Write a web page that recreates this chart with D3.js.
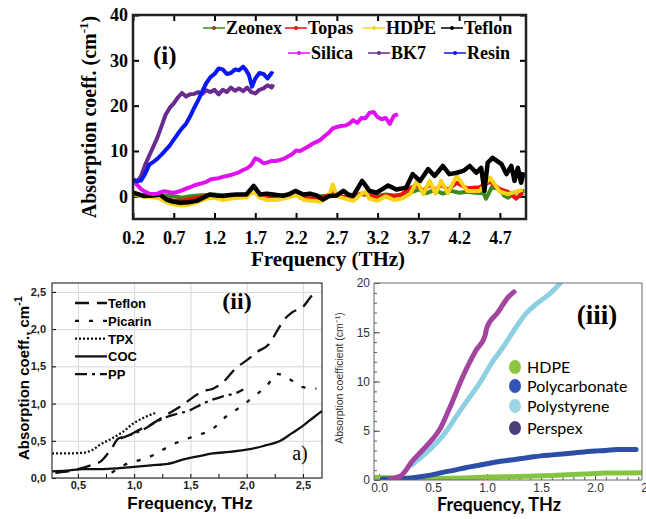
<!DOCTYPE html>
<html>
<head>
<meta charset="utf-8">
<script src="https://cdn.jsdelivr.net/npm/d3@7"></script>
<style>
	body { margin: 0; background: #fff; }
	svg { display: block; }
</style>
</head>
<body>
<script>
const w = 646;
const h = 519;
const serif = "'Liberation Serif', 'Times New Roman', serif";
const sans = "'Liberation Sans', Arial, sans-serif";

// ---------- panel (i) data : [THz, cm-1]
const ticksI_x = [0.2, 0.7, 1.2, 1.7, 2.2, 2.7, 3.2, 3.7, 4.2, 4.7];
const ticksI_y = [0, 10, 20, 30, 40];

const zeonexI = [[0.2,0.6],[0.3,0.2],[0.4,0.1],[0.5,0.2],[0.6,0.2],[0.7,0],[0.8,-0.3],[0.9,0],[1.0,0.2],[1.1,0.3],[1.2,0.4],[1.3,0.2],[1.4,0.3],[1.5,0.3],[1.6,0.2],[1.68,1.0],[1.75,0.4],[1.85,0.3],[1.95,0.2],[2.05,0.3],[2.15,0.5],[2.2,0.4],[2.3,0],[2.4,-0.3],[2.5,0],[2.6,0.2],[2.7,0.1],[2.8,-0.2],[2.9,0.1],[3.0,0.5],[3.1,0.3],[3.2,0.1],[3.3,0.4],[3.4,0.2],[3.5,0.3],[3.6,0.8],[3.7,1.5],[3.8,0.7],[3.9,1.4],[4.0,0.6],[4.1,1.2],[4.2,0.8],[4.3,1.0],[4.4,0.8],[4.5,0.7],[4.53,-0.5],[4.6,2.0],[4.7,1.6],[4.75,0.2],[4.8,-0.3],[4.9,1.0],[5.0,1.2]];
const topasI = [[0.2,0.8],[0.3,0.2],[0.5,0],[0.6,-0.5],[0.7,-1],[0.8,-1],[0.9,-0.6],[1.0,-0.3],[1.1,0.1],[1.2,0],[1.3,-0.3],[1.4,0],[1.5,0.2],[1.6,0.2],[1.68,1.2],[1.75,0.2],[1.9,0],[2.0,0],[2.1,0.3],[2.2,0.8],[2.25,-0.3],[2.4,-0.5],[2.5,-0.3],[2.6,0.2],[2.65,1.5],[2.7,0.2],[2.8,-0.2],[2.9,-0.3],[3.0,0.6],[3.1,0.2],[3.2,-0.3],[3.3,0.3],[3.4,0],[3.5,0.5],[3.6,1.8],[3.68,2.5],[3.76,1.2],[3.84,2.6],[3.91,1.3],[3.98,2.6],[4.06,1.4],[4.17,3.0],[4.3,1.8],[4.45,2.0],[4.58,3.2],[4.7,1.6],[4.8,1.0],[4.9,-0.5],[4.98,0.8]];
const hdpeI = [[0.2,0.5],[0.3,0],[0.5,-0.3],[0.6,-1.2],[0.7,-1.8],[0.8,-2],[0.9,-1.8],[1.0,-1.2],[1.1,-0.5],[1.2,-0.3],[1.3,-0.8],[1.4,-0.5],[1.5,-0.3],[1.6,-0.2],[1.68,1.3],[1.75,-0.3],[1.85,-0.8],[1.95,-0.8],[2.05,-0.5],[2.15,0],[2.2,0.3],[2.3,-0.8],[2.4,-1.0],[2.5,-1.2],[2.6,0],[2.65,2.6],[2.7,0],[2.8,-0.5],[2.9,-1],[3.0,0.5],[3.05,1.0],[3.1,-0.5],[3.2,-1],[3.3,0],[3.4,-0.8],[3.5,-0.5],[3.6,0.5],[3.68,3.4],[3.76,0.5],[3.84,3.4],[3.91,0.6],[3.98,3.4],[4.06,0.7],[4.17,4.5],[4.3,1.2],[4.45,1.2],[4.58,4.1],[4.7,1.0],[4.8,0.5],[4.9,1.0],[4.98,1.5]];
const teflonI = [[0.2,0.8],[0.33,0.1],[0.45,0.2],[0.53,0.4],[0.61,-0.7],[0.7,-1.2],[0.78,-1.4],[0.88,-1.3],[0.98,-1.0],[1.06,-0.3],[1.14,0.4],[1.22,0.2],[1.31,0.1],[1.39,0.3],[1.47,0.4],[1.59,0.4],[1.68,2.3],[1.76,0.4],[1.84,0.6],[1.92,0.4],[2.04,0.1],[2.12,0.5],[2.19,1.2],[2.29,0.4],[2.37,0.6],[2.45,0.2],[2.53,-0.7],[2.61,0.1],[2.7,0.2],[2.78,1.2],[2.84,0.4],[2.9,0.1],[3.01,3.4],[3.1,1.2],[3.19,0.8],[3.33,2.4],[3.43,1.5],[3.55,1.9],[3.63,4.9],[3.72,3.4],[3.82,6.0],[3.9,4.5],[4.0,6.7],[4.08,4.9],[4.17,5.2],[4.25,5.6],[4.33,6.7],[4.41,5.2],[4.47,6.3],[4.51,1.2],[4.55,7.4],[4.61,8.5],[4.72,7.1],[4.78,4.9],[4.84,6.7],[4.88,3.4],[4.92,6.3],[4.96,3.0],[4.99,5.3]];
const silicaI = [[0.2,3.5],[0.25,2.5],[0.3,1.6],[0.35,1.0],[0.4,0.6],[0.45,0.5],[0.5,0.6],[0.55,1.0],[0.6,1.1],[0.65,0.9],[0.7,0.8],[0.75,1.0],[0.8,1.3],[0.85,1.7],[0.9,2.0],[0.95,2.4],[1.0,2.7],[1.05,2.9],[1.1,3.2],[1.15,3.7],[1.2,3.9],[1.25,4.0],[1.3,4.3],[1.35,4.5],[1.4,4.7],[1.45,5.0],[1.5,5.3],[1.55,5.8],[1.6,6.2],[1.65,6.9],[1.7,8.4],[1.75,8.0],[1.8,7.3],[1.85,7.5],[1.9,7.8],[1.95,7.8],[2.0,8.0],[2.05,8.3],[2.1,8.8],[2.15,9.3],[2.2,10.1],[2.25,10.0],[2.3,10.5],[2.35,11.0],[2.4,11.6],[2.45,12.0],[2.5,12.5],[2.55,13.3],[2.6,14.0],[2.65,15.0],[2.7,15.3],[2.75,15.5],[2.8,15.6],[2.85,16.0],[2.9,16.8],[2.95,16.2],[3.0,17.3],[3.05,17.2],[3.1,18.4],[3.15,18.6],[3.2,17.5],[3.25,17.0],[3.3,17.3],[3.35,16.0],[3.4,17.8],[3.45,18.1]];
const bk7I = [[0.2,3.5],[0.25,3.2],[0.3,4.5],[0.35,7.0],[0.4,9.0],[0.45,11.0],[0.5,13.0],[0.55,15.5],[0.6,18.0],[0.65,19.5],[0.7,20.5],[0.75,21.8],[0.8,22.8],[0.85,22.0],[0.9,22.5],[0.95,22.6],[1.0,23.0],[1.05,22.6],[1.1,23.4],[1.15,23.0],[1.2,23.5],[1.25,22.5],[1.3,23.5],[1.35,23.0],[1.4,24.0],[1.45,23.3],[1.5,23.8],[1.55,23.2],[1.6,24.0],[1.65,23.0],[1.7,22.7],[1.75,23.5],[1.8,23.8],[1.85,24.5],[1.9,24.0],[1.92,24.7]];
const resinI = [[0.2,3.7],[0.25,3.4],[0.3,3.5],[0.35,5.0],[0.4,7.0],[0.45,7.6],[0.5,8.3],[0.55,9.2],[0.6,10.2],[0.65,11.2],[0.7,12.5],[0.75,13.8],[0.8,15.0],[0.85,16.0],[0.9,17.6],[0.95,19.5],[1.0,21.2],[1.05,23.2],[1.1,25.0],[1.15,26.3],[1.2,27.0],[1.25,28.2],[1.3,28.0],[1.35,27.0],[1.4,27.2],[1.45,28.0],[1.5,27.8],[1.55,28.6],[1.58,28.0],[1.62,26.8],[1.66,24.2],[1.7,26.0],[1.75,27.2],[1.8,27.0],[1.85,26.0],[1.9,27.2],[1.92,27.0]];

// ---------- panel (ii) data
const ticksII_x = [0.5, 1.0, 1.5, 2.0, 2.5];
const ticksII_y = [0, 0.5, 1.0, 1.5, 2.0, 2.5];
const teflonII = [[0.3,0.07],[0.45,0.1],[0.55,0.14],[0.63,0.18],[0.7,0.22],[0.8,0.4],[0.86,0.53],[0.95,0.57],[1.05,0.65],[1.15,0.72],[1.3,0.86],[1.4,0.95],[1.52,1.08],[1.6,1.16],[1.7,1.2],[1.8,1.3],[1.9,1.47],[2.0,1.58],[2.1,1.7],[2.2,1.8],[2.28,2.0],[2.33,2.12],[2.4,2.22],[2.5,2.3],[2.6,2.48],[2.63,2.5]];
const picarinII = [[0.8,0.07],[0.95,0.2],[1.07,0.25],[1.19,0.32],[1.3,0.42],[1.44,0.51],[1.55,0.57],[1.69,0.65],[1.82,0.83],[1.96,0.97],[2.06,1.09],[2.18,1.24],[2.27,1.4],[2.39,1.32],[2.5,1.22],[2.62,1.2]];
const tpxII = [[0.27,0.33],[0.4,0.33],[0.55,0.34],[0.62,0.37],[0.7,0.45],[0.8,0.53],[0.9,0.62],[1.0,0.74],[1.1,0.82],[1.2,0.88]];
const cocII = [[0.27,0.09],[0.4,0.1],[0.55,0.12],[0.7,0.12],[0.85,0.13],[1.0,0.15],[1.15,0.17],[1.3,0.19],[1.44,0.25],[1.6,0.3],[1.7,0.33],[1.85,0.35],[2.0,0.38],[2.15,0.43],[2.3,0.5],[2.4,0.6],[2.5,0.7],[2.6,0.82],[2.67,0.9]];
const ppII = [[0.88,0.53],[0.98,0.59],[1.08,0.65],[1.18,0.74],[1.29,0.82],[1.38,0.86],[1.48,0.9],[1.6,0.99],[1.69,1.05],[1.8,1.1],[1.92,1.15],[1.97,1.19]];

// ---------- panel (iii) data
const ticksIII_x = [0, 0.5, 1.0, 1.5, 2.0, 2.5];
const ticksIII_y = [0, 5, 10, 15, 20];
const hdpeIII = [[-0.04,0.25],[0.2,0.2],[0.5,0.15],[0.8,0.2],[1.0,0.3],[1.3,0.35],[1.6,0.45],[1.9,0.6],[2.1,0.7],[2.3,0.72],[2.45,0.75]];
const polycarbIII = [[0.03,0.1],[0.2,0.12],[0.3,0.2],[0.4,0.35],[0.5,0.55],[0.6,0.8],[0.7,1.0],[0.8,1.25],[0.9,1.45],[1.0,1.65],[1.1,1.85],[1.2,2.0],[1.3,2.15],[1.4,2.3],[1.5,2.45],[1.6,2.55],[1.7,2.65],[1.8,2.75],[1.9,2.85],[2.0,2.95],[2.1,3.0],[2.2,3.1],[2.3,3.1],[2.38,3.1]];
const polystyIII = [[0.3,1.5],[0.4,2.4],[0.5,3.4],[0.62,4.9],[0.7,6.2],[0.8,7.8],[0.93,9.8],[1.05,12.0],[1.15,13.5],[1.25,15.2],[1.36,16.9],[1.46,17.9],[1.58,18.9],[1.68,20.0]];
const perspexIII = [[0.1,0.1],[0.2,0.4],[0.25,1.0],[0.3,1.8],[0.4,3.0],[0.5,4.2],[0.56,5.1],[0.65,7.2],[0.78,10.6],[0.9,13.2],[0.98,14.6],[1.0,15.5],[1.1,17.0],[1.2,18.6],[1.25,19.1]];

const svg = d3.select('body').append('svg').attr('width', w).attr('height', h);
svg.append('rect').attr('width', w).attr('height', h).attr('fill', '#fff');

// ======================= panel (i)
const x1 = d3.scaleLinear().domain([0.2, 5.02]).range([133, 526]);
const y1 = d3.scaleLinear().domain([-5, 40]).range([219, 15]);
const g1 = svg.append('g');

function styleAxis(g, family, size, weight, color) {
	g.select('.domain').remove();
	g.attr('font-family', family).attr('font-size', size).attr('font-weight', weight);
	g.selectAll('text').attr('fill', color);
}

g1.append('g')
	.attr('transform', 'translate(0,219)')
	.call(d3.axisBottom(x1).tickValues(ticksI_x).tickFormat(d3.format('.1f')).tickSizeInner(-6).tickSizeOuter(0).tickPadding(12))
	.call(function(g) { styleAxis(g, serif, 18, 'bold', '#000'); });
g1.append('g')
	.attr('transform', 'translate(0,15)')
	.call(d3.axisTop(x1).tickValues(ticksI_x).tickFormat('').tickSizeInner(-6).tickSizeOuter(0))
	.call(function(g) { g.select('.domain').remove(); });
g1.append('g')
	.attr('transform', 'translate(133,0)')
	.call(d3.axisLeft(y1).tickValues(ticksI_y).tickFormat(d3.format('d')).tickSizeInner(-6).tickSizeOuter(0).tickPadding(5))
	.call(function(g) { styleAxis(g, serif, 18, 'bold', '#000'); });
g1.append('g')
	.attr('transform', 'translate(526,0)')
	.call(d3.axisRight(y1).tickValues(ticksI_y).tickFormat('').tickSizeInner(-6).tickSizeOuter(0))
	.call(function(g) { g.select('.domain').remove(); });
g1.selectAll('.tick line').attr('stroke-width', 2);

const seriesI = [
	{ name: 'Zeonex', color: '#3d8a1f', data: zeonexI },
	{ name: 'Topas', color: '#f01010', data: topasI },
	{ name: 'HDPE', color: '#f7d417', data: hdpeI },
	{ name: 'Teflon', color: '#000', data: teflonI },
	{ name: 'Silica', color: '#e010f0', data: silicaI },
	{ name: 'BK7', color: '#6a2a8e', data: bk7I },
	{ name: 'Resin', color: '#0818f5', data: resinI }
];
const line1 = d3.line()
	.x(function(d) { return x1(d[0]); })
	.y(function(d) { return y1(d[1]); });

g1.selectAll('.lineI')
	.data(seriesI)
	.enter()
	.append('path')
	.attr('class', 'lineI')
	.attr('fill', 'none')
	.attr('stroke', function(d) { return d.color; })
	.attr('stroke-width', function(d) { return d.name === 'Teflon' ? 4.5 : 4; })
	.attr('stroke-linejoin', 'round')
	.attr('d', function(d) { return line1(d.data); });

g1.append('rect')
	.attr('x', 133).attr('y', 15).attr('width', 393).attr('height', 204)
	.attr('fill', 'none').attr('stroke', '#222').attr('stroke-width', 2.5);

// legend (i)
const legendPos = [[203, 34], [285, 34], [363, 34], [441, 34], [288, 59], [368, 59], [444, 59]];
const leg1 = g1.selectAll('.legI')
	.data(seriesI)
	.enter()
	.append('g')
	.attr('class', 'legI')
	.attr('transform', function(d, i) { return 'translate(' + legendPos[i][0] + ',' + legendPos[i][1] + ')'; });
leg1.append('line').attr('x1', 0).attr('x2', 22).attr('y1', -6).attr('y2', -6)
	.attr('stroke', function(d) { return d.color; }).attr('stroke-width', 1.5);
leg1.append('circle').attr('cx', 11).attr('cy', -6).attr('r', 2)
	.attr('fill', function(d) { return d.name === 'Zeonex' ? '#a0302a' : d.color; });
leg1.append('text').attr('x', 23).attr('y', 0)
	.attr('font-family', serif).attr('font-weight', 'bold').attr('font-size', 18)
	.text(function(d) { return d.name; });

g1.append('text').attr('x', 153).attr('y', 64)
	.attr('font-family', serif).attr('font-weight', 'bold').attr('font-size', 25).text('(i)');

g1.append('text').attr('x', 328).attr('y', 266).attr('text-anchor', 'middle')
	.attr('font-family', serif).attr('font-weight', 'bold').attr('font-size', 21).text('Frequency (THz)');

const yl1 = g1.append('text')
	.attr('transform', 'translate(96,117) rotate(-90)')
	.attr('text-anchor', 'middle')
	.attr('font-family', serif).attr('font-weight', 'bold').attr('font-size', 20);
yl1.append('tspan').text('Absorption coeff. (cm');
yl1.append('tspan').attr('dy', -8).attr('font-size', 13).text('-1');
yl1.append('tspan').attr('dy', 8).text(')');

// ======================= panel (ii)
const x2 = d3.scaleLinear().domain([0.27, 2.67]).range([52, 322]);
const y2 = d3.scaleLinear().domain([0, 2.62]).range([478, 283]);
const g2 = svg.append('g');
const comma = function(d) { return d3.format('.1f')(d).replace('.', ','); };

g2.append('g').attr('transform', 'translate(0,478)')
	.call(d3.axisBottom(x2).tickValues(ticksII_x).tickSizeInner(-195).tickSizeOuter(0).tickFormat(''))
	.call(function(g) { g.select('.domain').remove(); g.selectAll('line').attr('stroke', '#d8d8d8'); });
g2.append('g').attr('transform', 'translate(52,0)')
	.call(d3.axisLeft(y2).tickValues(ticksII_y).tickSizeInner(-270).tickSizeOuter(0).tickFormat(''))
	.call(function(g) { g.select('.domain').remove(); g.selectAll('line').attr('stroke', '#d8d8d8'); });

g2.append('g').attr('transform', 'translate(0,478)')
	.call(d3.axisBottom(x2).tickValues(d3.range(0.5, 2.6, 0.25)).tickSizeInner(-4).tickSizeOuter(0).tickFormat(function(d) { return ticksII_x.indexOf(d) >= 0 ? comma(d) : ''; }).tickPadding(3))
	.call(function(g) { styleAxis(g, sans, 11, 'bold', '#222'); });
g2.append('g').attr('transform', 'translate(52,0)')
	.call(d3.axisLeft(y2).tickValues(ticksII_y).tickSizeInner(-4).tickSizeOuter(0).tickFormat(comma).tickPadding(6))
	.call(function(g) { styleAxis(g, sans, 11, 'bold', '#222'); });

const seriesII = [
	{ name: 'Teflon', data: teflonII, dash: '14,8' },
	{ name: 'Picarin', data: picarinII, dash: '4,10' },
	{ name: 'TPX', data: tpxII, dash: '2,2' },
	{ name: 'COC', data: cocII, dash: null },
	{ name: 'PP', data: ppII, dash: '12,5,3,5' }
];
const line2 = d3.line()
	.curve(d3.curveMonotoneX)
	.x(function(d) { return x2(d[0]); })
	.y(function(d) { return y2(d[1]); });

g2.selectAll('.lineII')
	.data(seriesII)
	.enter()
	.append('path')
	.attr('class', 'lineII')
	.attr('fill', 'none')
	.attr('stroke', '#111')
	.attr('stroke-width', 2.3)
	.attr('stroke-dasharray', function(d) { return d.dash; })
	.attr('d', function(d) { return line2(d.data); });

g2.append('rect').attr('x', 52).attr('y', 283).attr('width', 270).attr('height', 195)
	.attr('fill', 'none').attr('stroke', '#333').attr('stroke-width', 1.2);

const leg2 = g2.selectAll('.legII')
	.data(seriesII)
	.enter()
	.append('g')
	.attr('class', 'legII')
	.attr('transform', function(d, i) { return 'translate(75,' + (303 + i * 17.8) + ')'; });
leg2.append('line').attr('x1', 0).attr('x2', 32).attr('y1', 0).attr('y2', 0)
	.attr('stroke', '#111').attr('stroke-width', 2.3)
	.attr('stroke-dasharray', function(d) { return d.dash; });
leg2.append('text').attr('x', 33).attr('y', 5)
	.attr('font-family', sans).attr('font-weight', 'bold').attr('font-size', 13)
	.text(function(d) { return d.name; });

g2.append('text').attr('x', 237).attr('y', 309).attr('text-anchor', 'middle')
	.attr('font-family', serif).attr('font-weight', 'bold').attr('font-size', 24).text('(ii)');
g2.append('text').attr('x', 300).attr('y', 460).attr('text-anchor', 'middle')
	.attr('font-family', serif).attr('font-size', 20).text('a)');
g2.append('text').attr('x', 190).attr('y', 509).attr('text-anchor', 'middle')
	.attr('font-family', sans).attr('font-weight', 'bold').attr('font-size', 17).text('Frequency, THz');
const yl2 = g2.append('text')
	.attr('transform', 'translate(29,378) rotate(-90)')
	.attr('text-anchor', 'middle')
	.attr('font-family', sans).attr('font-weight', 'bold').attr('font-size', 15);
yl2.append('tspan').text('Absorption coeff., cm');
yl2.append('tspan').attr('dy', -7).attr('font-size', 11).text('-1');

// ======================= panel (iii)
const x3 = d3.scaleLinear().domain([0, 2.5]).range([379, 649]);
const y3 = d3.scaleLinear().domain([0, 20]).range([480, 283]);
const g3 = svg.append('g');

g3.append('g').attr('transform', 'translate(0,480)')
	.call(d3.axisBottom(x3).tickValues(d3.range(0, 2.45, 0.1)).tickSizeInner(-3).tickSizeOuter(0).tickFormat(''))
	.call(function(g) { g.select('.domain').remove(); g.selectAll('line').attr('stroke', '#555'); });
g3.append('g').attr('transform', 'translate(0,480)')
	.call(d3.axisBottom(x3).tickValues(ticksIII_x).tickSizeInner(-6).tickSizeOuter(0).tickFormat(d3.format('.1f')).tickPadding(3))
	.call(function(g) { styleAxis(g, sans, 12, 'normal', '#333'); g.selectAll('line').attr('stroke', '#555'); });
g3.append('g').attr('transform', 'translate(374,0)')
	.call(d3.axisLeft(y3).tickValues(d3.range(0, 20.1, 1)).tickSizeInner(-3).tickSizeOuter(0).tickFormat(''))
	.call(function(g) { g.select('.domain').remove(); g.selectAll('line').attr('stroke', '#555'); });
g3.append('g').attr('transform', 'translate(374,0)')
	.call(d3.axisLeft(y3).tickValues(ticksIII_y).tickSizeInner(-6).tickSizeOuter(0).tickFormat(d3.format('d')).tickPadding(4))
	.call(function(g) { styleAxis(g, sans, 12, 'normal', '#333'); g.selectAll('line').attr('stroke', '#555'); });

svg.append('clipPath').attr('id', 'clip3')
	.append('rect').attr('x', 374).attr('y', 283).attr('width', 268).attr('height', 197);

const seriesIII = [
	{ name: 'HDPE', color: '#84c441', key: '#8cc63f', data: hdpeIII },
	{ name: 'Polycarbonate', color: '#2c4ea9', key: '#2f55b6', data: polycarbIII },
	{ name: 'Polystyrene', color: '#8dd0e4', key: '#9fd6e7', data: polystyIII },
	{ name: 'Perspex', color: '#a3449e', key: '#4b3c7a', data: perspexIII }
];
const line3 = d3.line()
	.curve(d3.curveMonotoneX)
	.x(function(d) { return x3(d[0]); })
	.y(function(d) { return y3(d[1]); });

g3.append('g').attr('clip-path', 'url(#clip3)')
	.selectAll('path')
	.data(seriesIII)
	.enter()
	.append('path')
	.attr('fill', 'none')
	.attr('stroke', function(d) { return d.color; })
	.attr('stroke-width', 5)
	.attr('stroke-linecap', 'round')
	.attr('d', function(d) { return line3(d.data); });

g3.append('path')
	.attr('d', 'M374,480V283H642V480Z')
	.attr('fill', 'none').attr('stroke', '#666').attr('stroke-width', 1);

const legY = [367, 386, 406, 428];
const leg3 = g3.selectAll('.legIII')
	.data(seriesIII)
	.enter()
	.append('g')
	.attr('transform', function(d, i) { return 'translate(515,' + legY[i] + ')'; });
leg3.append('ellipse').attr('rx', 6).attr('ry', 7).attr('fill', function(d) { return d.key; });
leg3.append('text').attr('x', 12).attr('y', 6)
	.attr('font-family', 'Lato, sans-serif').attr('font-size', 16).attr('fill', '#000')
	.text(function(d) { return d.name; });

g3.append('text').attr('x', 597).attr('y', 324).attr('text-anchor', 'middle')
	.attr('font-family', serif).attr('font-weight', 'bold').attr('font-size', 27).text('(iii)');
g3.append('text').attr('x', 499).attr('y', 511).attr('text-anchor', 'middle')
	.attr('font-family', 'Lato, sans-serif').attr('font-weight', 'bold').attr('font-size', 18).text('Frequency, THz');
g3.append('text')
	.attr('transform', 'translate(343,378) rotate(-90)')
	.attr('text-anchor', 'middle')
	.attr('font-family', sans).attr('font-size', 10.5).attr('fill', '#333')
	.text('Absorption coefficient (cm⁻¹)');
</script>
</body>
</html>
